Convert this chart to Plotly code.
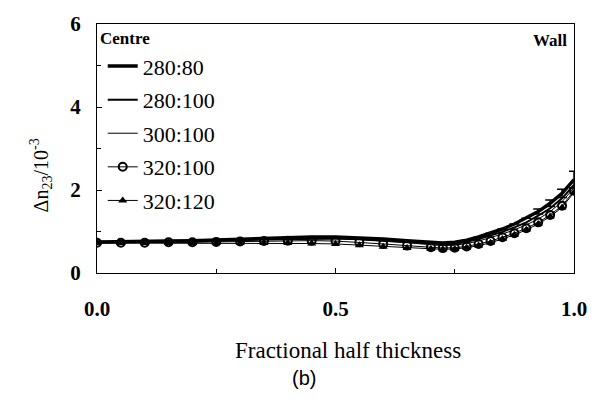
import plotly.graph_objects as go

x = [0.0, 0.05, 0.10, 0.15, 0.20, 0.25, 0.30, 0.35, 0.40, 0.45, 0.50, 0.55, 0.60, 0.65, 0.70,
     0.725, 0.75, 0.775, 0.80, 0.825, 0.85, 0.875, 0.90, 0.925, 0.95, 0.975, 1.0]

s_280_80 = [0.75, 0.75, 0.76, 0.77, 0.78, 0.80, 0.82, 0.84, 0.86, 0.87, 0.87, 0.85, 0.82, 0.78, 0.74,
            0.72, 0.74, 0.79, 0.87, 0.96, 1.06, 1.18, 1.32, 1.48, 1.68, 1.92, 2.25]
s_280_100 = [0.74, 0.74, 0.75, 0.76, 0.77, 0.78, 0.80, 0.82, 0.83, 0.84, 0.84, 0.82, 0.79, 0.75, 0.71,
             0.69, 0.70, 0.75, 0.82, 0.90, 0.99, 1.10, 1.22, 1.38, 1.56, 1.80, 2.12]
s_300_100 = [0.74, 0.74, 0.75, 0.76, 0.77, 0.78, 0.79, 0.80, 0.81, 0.82, 0.82, 0.80, 0.77, 0.73, 0.68,
             0.66, 0.67, 0.71, 0.77, 0.85, 0.94, 1.04, 1.16, 1.30, 1.48, 1.72, 2.05]
s_320_100 = [0.73, 0.73, 0.73, 0.74, 0.74, 0.75, 0.76, 0.77, 0.78, 0.78, 0.77, 0.74, 0.70, 0.66, 0.62,
             0.60, 0.61, 0.64, 0.70, 0.77, 0.86, 0.96, 1.08, 1.22, 1.40, 1.62, 1.98]
s_320_120 = [0.72, 0.72, 0.72, 0.72, 0.72, 0.72, 0.72, 0.72, 0.72, 0.71, 0.70, 0.67, 0.63, 0.60, 0.58,
             0.57, 0.58, 0.61, 0.66, 0.73, 0.82, 0.92, 1.04, 1.18, 1.36, 1.58, 1.94]
err_280_80 = [0] * 23 + [0.06, 0.08, 0.10, 0.20]

names = ["280:80", "280:100", "300:100", "320:100", "320:120"]
x_ticks = [0.0, 0.5, 1.0]
x_ticklabels = ["0.0", "0.5", "1.0"]
y_ticks = [0, 2, 4, 6]

serif = "Liberation Serif, Times New Roman, serif"

L, R, T, B = 97, 17, 15, 129
W, H = 599, 402
pw, ph = W - L - R, H - T - B


def px(xp):
    return (xp - L) / pw


def py(yp):
    return (H - B - yp) / ph


fig = go.Figure()
fig.add_trace(go.Scatter(x=x, y=s_280_80, name=names[0], mode="lines", legendgroup="a",
                         line=dict(color="black", width=3.5),
                         error_y=dict(type="data", array=err_280_80, color="black", thickness=1.5, width=5)))
fig.add_trace(go.Scatter(x=x, y=s_280_100, name=names[1], mode="lines", legendgroup="b",
                         line=dict(color="black", width=2)))
fig.add_trace(go.Scatter(x=x, y=s_300_100, name=names[2], mode="lines", legendgroup="c",
                         line=dict(color="black", width=1)))
fig.add_trace(go.Scatter(x=x, y=s_320_100, name=names[3], mode="lines+markers", legendgroup="d",
                         line=dict(color="black", width=1),
                         marker=dict(symbol="circle-open", size=8, color="black", line=dict(width=2))))
fig.add_trace(go.Scatter(x=x, y=s_320_120, name=names[4], mode="lines+markers", legendgroup="e",
                         line=dict(color="black", width=1),
                         marker=dict(symbol="triangle-up", size=8, color="black")))

fig.update_layout(
    width=W, height=H,
    margin=dict(l=L, r=R, t=T, b=B),
    paper_bgcolor="white", plot_bgcolor="white",
    font=dict(family=serif, color="black", size=16),
    showlegend=True,
    legend=dict(x=0.012, y=py(37), xanchor="left", yanchor="top",
                bgcolor="rgba(0,0,0,0)", font=dict(size=22, family=serif),
                tracegroupgap=2, itemwidth=30),
    xaxis=dict(range=[0, 1.0], tickvals=x_ticks, ticktext=x_ticklabels,
               showgrid=False, zeroline=False, showline=True, linecolor="black", linewidth=1,
               mirror=True, ticks="inside", ticklen=5, tickcolor="black",
               minor=dict(tickvals=[0.25, 0.75], ticks="inside", ticklen=4, tickcolor="black"),
               tickfont=dict(size=21, family=serif, weight="bold"),
               ticklabelstandoff=17),
    yaxis=dict(range=[0, 6], tickvals=y_ticks,
               showgrid=False, zeroline=False, showline=True, linecolor="black", linewidth=1,
               mirror=True, ticks="inside", ticklen=5, tickcolor="black",
               minor=dict(tickvals=[1, 3, 5], ticks="inside", ticklen=4, tickcolor="black"),
               tickfont=dict(size=21, family=serif, weight="bold"),
               ticklabelstandoff=11),
    annotations=[
        dict(text="<b>Centre</b>", x=px(98), y=py(30), xref="paper", yref="paper",
             xanchor="left", yanchor="middle", showarrow=False, font=dict(size=17, family=serif)),
        dict(text="<b>Wall</b>", x=px(577), y=py(32), xref="paper", yref="paper",
             xanchor="right", yanchor="middle", showarrow=False, font=dict(size=17, family=serif)),
        dict(text="Fractional half thickness", x=px(352), y=py(353), xref="paper", yref="paper",
             xanchor="center", yanchor="middle", showarrow=False, font=dict(size=23, family=serif)),
        dict(text="Δn<sub>23</sub>/10<sup>-3</sup>", x=px(40), y=py(172), xref="paper", yref="paper",
             xanchor="center", yanchor="middle", textangle=-90, showarrow=False,
             font=dict(size=20, family=serif)),
        dict(text="(b)", x=px(307), y=py(382), xref="paper", yref="paper", showarrow=False,
             xanchor="center", yanchor="middle",
             font=dict(size=20, family="Liberation Sans, Arial, sans-serif")),
    ],
)

fig.write_html("out.html",
               config={"displayModeBar": False},
               post_script="document.body.style.margin='0';document.body.style.overflow='hidden';")
